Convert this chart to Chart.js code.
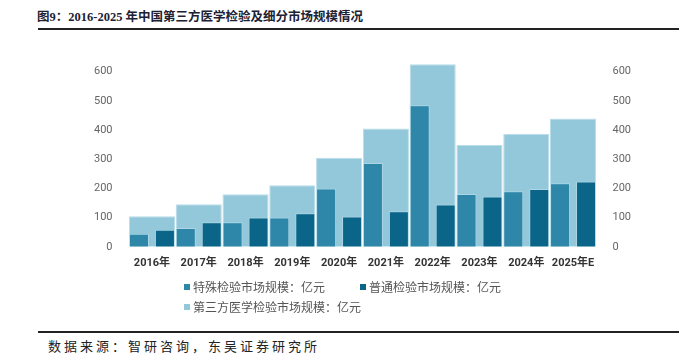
<!DOCTYPE html>
<html>
<head>
<meta charset="utf-8">
<script src="https://cdn.jsdelivr.net/npm/chart.js@4.4.1/dist/chart.umd.min.js"></script>
<style>
  html, body { margin: 0; padding: 0; background: #fff; }
  body { width: 699px; height: 363px; position: relative; overflow: hidden;
         font-family: "Noto Sans CJK SC", "Noto Sans", sans-serif; }
  #title { position: absolute; left: 37px; top: 6px; font-size: 12.5px; font-weight: bold;
           color: #1c2233; font-family: "Liberation Serif", "Noto Sans CJK SC", serif; white-space: nowrap; }
  .rule { position: absolute; left: 38px; width: 641px; height: 2px; background: #222; }
  #wrap { position: absolute; left: 0; top: 0; width: 699px; height: 282px; }
  #legend { position: absolute; left: 184px; top: 278px; font-size: 12px; color: #555; }
  .item { position: absolute; white-space: nowrap; display: flex; align-items: center; }
  .item i { display: inline-block; width: 6px; height: 6px; margin-right: 3px; }
  #source { position: absolute; left: 48px; top: 336px; font-size: 13px; color: #222;
            letter-spacing: 3px; white-space: nowrap; }
</style>
</head>
<body>
<div id="title">图9：2016-2025 年中国第三方医学检验及细分市场规模情况</div>
<div class="rule" style="top:28px"></div>
<div id="wrap"><canvas id="chart"></canvas></div>
<div id="legend"></div>
<div class="rule" style="top:331px"></div>
<div id="source">数据来源：智研咨询，东吴证券研究所</div>
<script>
const years = ["2016年", "2017年", "2018年", "2019年", "2020年", "2021年", "2022年", "2023年", "2024年", "2025年E"];
const special = [45, 64, 84, 100, 200, 287, 485, 181, 190, 218];
const general = [58, 84, 100, 115, 104, 122, 145, 172, 198, 224];
const total = [105, 146, 180, 211, 305, 405, 625, 349, 387, 439];
const seriesNames = ["特殊检验市场规模：亿元", "普通检验市场规模：亿元", "第三方医学检验市场规模：亿元"];
const seriesColors = ["#2e86a8", "#0b6588", "#93c7da"];

const tickFont = { family: "Roboto, 'Noto Sans', sans-serif", size: 11 };
const yAxis = (pos) => ({
  position: pos,
  min: 0,
  max: 650,
  grid: { display: false },
  border: { display: false },
  ticks: {
    stepSize: 100,
    includeBounds: false,
    padding: 8,
    color: "#666",
    font: tickFont,
  },
});

const chart = new Chart(document.getElementById("chart"), {
  type: "bar",
  data: {
    labels: years,
    datasets: [
      {
        label: seriesNames[0],
        data: special,
        backgroundColor: seriesColors[0],
        borderColor: "rgba(200,230,240,0.5)",
        borderWidth: 1,
        categoryPercentage: 1.11,
        barPercentage: 0.77,
      },
      {
        label: seriesNames[1],
        data: general,
        backgroundColor: seriesColors[1],
        borderColor: "rgba(200,230,240,0.5)",
        borderWidth: 1,
        categoryPercentage: 1.11,
        barPercentage: 0.77,
      },
      {
        label: seriesNames[2],
        data: total,
        grouped: false,
        backgroundColor: seriesColors[2],
        borderColor: "#b9dde9",
        borderWidth: 1,
        categoryPercentage: 0.985,
        barPercentage: 1,
      },
    ],
  },
  options: {
    responsive: true,
    maintainAspectRatio: false,
    animation: false,
    layout: { padding: { left: 86, right: 60, top: 57, bottom: 10 } },
    plugins: {
      legend: { display: false },
      tooltip: { enabled: false },
    },
    scales: {
      x: {
        grid: { display: false },
        border: { display: false },
        ticks: {
          padding: 2,
          maxRotation: 0,
          minRotation: 0,
          autoSkip: false,
          color: "#333",
          font: { family: "Roboto, 'Noto Sans CJK SC', sans-serif", size: 11, weight: "bold" },
        },
      },
      y: yAxis("left"),
      y1: yAxis("right"),
    },
  },
});

// legend built from the datasets
const legendPos = [[0, 0], [176, 0], [0, 20]];
const legend = document.getElementById("legend");
chart.data.datasets.forEach((ds, i) => {
  const el = document.createElement("div");
  el.className = "item";
  el.style.left = legendPos[i][0] + "px";
  el.style.top = legendPos[i][1] + "px";
  el.innerHTML = '<i style="background:' + ds.backgroundColor + '"></i>' + ds.label;
  legend.appendChild(el);
});
</script>
</body>
</html>
